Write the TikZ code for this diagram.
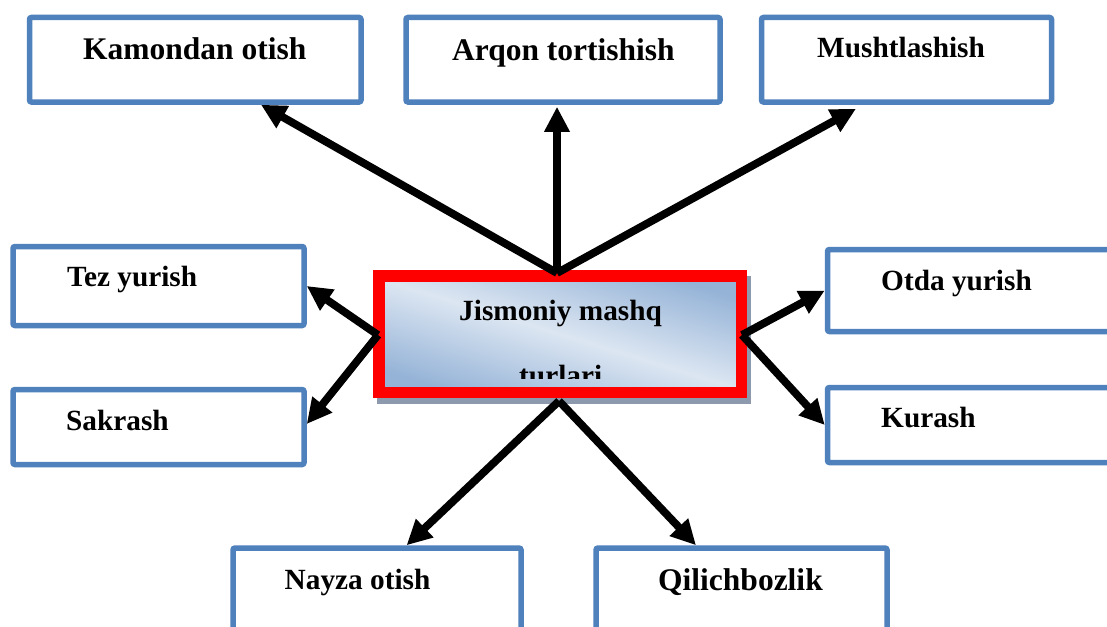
\documentclass[tikz,border=0pt]{standalone}
\usepackage{fontspec}
\setmainfont{Liberation Serif}
\usetikzlibrary{arrows.meta,calc}
\definecolor{boxblue}{HTML}{4F81BD}
\definecolor{shadowgray}{HTML}{8D9AAD}
\definecolor{gradlight}{HTML}{DCE6F2}
\definecolor{graddark}{HTML}{95B3D7}
\begin{document}
\begin{tikzpicture}[x=1pt,y=-1pt,
  box/.style={draw=boxblue, line width=5.5pt, rounded corners=2pt, inner sep=0pt, fill=white},
  lbl/.style={anchor=base west, inner sep=0pt, font=\fontsize{29.3}{35}\selectfont\bfseries},
  lblbig/.style={anchor=base west, inner sep=0pt, font=\fontsize{31.5}{38}\selectfont\bfseries},
  arr/.style={line width=7.8pt, -{Triangle[length=25pt,width=24pt]}}]
\useasboundingbox (0,0) rectangle (1107,626);
\clip (0,0) rectangle (1107,626);
\fill[white] (0,0) rectangle (1107,626);
% boxes
\node[box, minimum width=331.5pt, minimum height=84.5pt] (kam) at (195.25,59.75) {};
\node[box, minimum width=314pt, minimum height=84.5pt] (arq) at (563,59.75) {};
\node[box, minimum width=290pt, minimum height=84.5pt] (mus) at (906.5,59.75) {};
\node[box, minimum width=291pt, minimum height=79pt] (tez) at (158.5,286) {};
\node[box, minimum width=291pt, minimum height=75pt] (sak) at (158.5,427) {};
\node[box, minimum width=302.5pt, minimum height=82pt] (otd) at (978.75,290.5) {};
\node[box, minimum width=302.5pt, minimum height=75pt] (kur) at (978.75,425) {};
\node[box, minimum width=288pt, minimum height=102pt] (nay) at (377,599) {};
\node[box, minimum width=291pt, minimum height=102pt] (qil) at (741.5,599) {};
% labels
\node[lblbig] (kamt) at (83,59.3) {Kamondan otish};
\node[lblbig] (arqt) at (452,60) {Arqon tortishish};
\node[lbl] (must) at (817,57.3) {Mushtlashish};
\node[lbl] (tezt) at (67,286.7) {Tez yurish};
\node[lbl] (sakt) at (66,430) {Sakrash};
\node[lbl] (otdt) at (881,290) {Otda yurish};
\node[lbl] (kurt) at (881,427) {Kurash};
\node[lbl] (nayt) at (284.5,589.3) {Nayza otish};
\node[lblbig] (qilt) at (658,590.7) {Qilichbozlik};
% centre box
\fill[shadowgray] (377,276) rectangle (751,404);
\node[draw=red, line width=11.5pt, minimum width=362.5pt, minimum height=116.5pt,
      inner sep=0pt, outer sep=0pt, top color=graddark, bottom color=graddark,
      middle color=gradlight, shading angle=-17] (c) at (560,334) {};
\begin{scope}
  \clip (384.5,281.5) rectangle (735.5,378);
  \node[lbl] (ct1) at (459,320) {Jismoniy mashq};
  \node[lbl] (ct2) at (519,385) {turlari};
\end{scope}
% hubs
\coordinate (hubT) at ([xshift=-3pt,yshift=2.75pt]c.north);
\coordinate (hubL) at ([xshift=-0.75pt,yshift=-1pt]c.west);
\coordinate (hubR) at ([xshift=0.75pt,yshift=-1pt]c.east);
\coordinate (hubB) at ([xshift=-1pt,yshift=-8.75pt]c.south);
% arrows
\draw[arr] (hubT) -- ([xshift=65.75pt]kam.south);
\draw[arr] (hubT) -- ([xshift=-6pt,yshift=-2pt]arq.south);
\draw[arr] (hubT) -- ([xshift=-50.5pt,yshift=-4pt]mus.south);
\draw[arr] (hubL) -- (tez.east);
\draw[arr] (hubL) -- ([yshift=3pt]sak.east);
\draw[arr] (hubR) -- (otd.west);
\draw[arr] (hubR) -- (kur.west);
\draw[arr] (hubB) -- ([xshift=29.6pt]nay.north);
\draw[arr] (hubB) -- ([xshift=-45.5pt]qil.north);
\end{tikzpicture}
\end{document}
